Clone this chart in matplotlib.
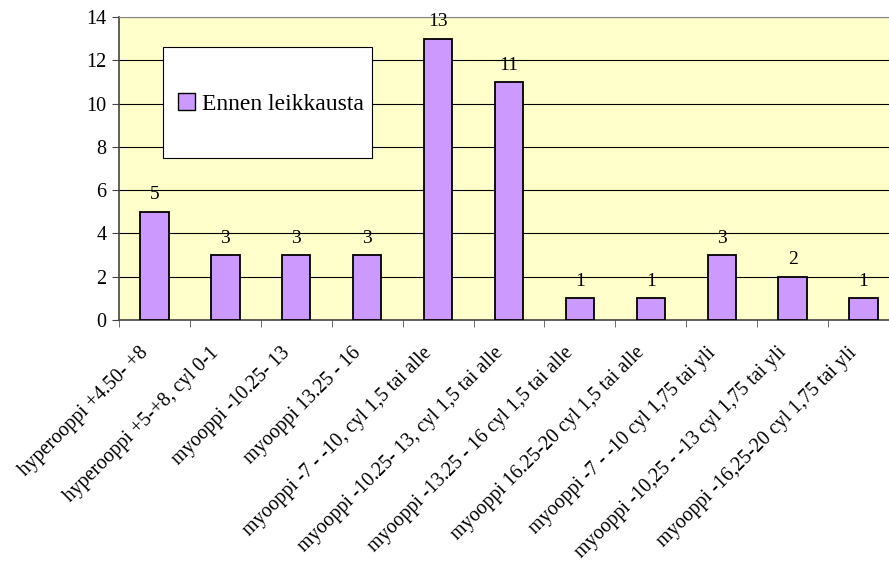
import matplotlib
matplotlib.use("Agg")
import matplotlib.pyplot as plt
from matplotlib.patches import Patch, Rectangle
import matplotlib.transforms as mtransforms
import numpy as np

categories = [
    "hyperooppi +4.50- +8",
    "hyperooppi +5-+8, cyl 0-1",
    "myooppi -10.25- 13",
    "myooppi 13.25 - 16",
    "myooppi -7 - -10, cyl 1,5 tai alle",
    "myooppi -10.25- 13, cyl 1,5 tai alle",
    "myooppi -13.25 - 16 cyl 1,5 tai alle",
    "myooppi 16.25-20 cyl 1,5 tai alle",
    "myooppi -7 - -10 cyl 1,75 tai yli",
    "myooppi -10,25 - -13 cyl 1,75 tai yli",
    "myooppi -16,25-20 cyl 1,75 tai yli",
]
values = [5, 3, 3, 3, 13, 11, 1, 1, 3, 2, 1]
series_name = "Ennen leikkausta"
y_ticks = [0, 2, 4, 6, 8, 10, 12, 14]

plt.rcParams["font.family"] = ["Liberation Serif", "DejaVu Serif"]

W, H = 889, 565
fig = plt.figure(figsize=(W / 100, H / 100), dpi=100)
ax = fig.add_axes([119 / W, 245 / H, 780 / W, 303 / H])
ax.set_facecolor("#FFFFCC")

x = np.arange(len(categories))
ax.bar(x, values, width=0.4, color="#CC99FF", edgecolor="black", linewidth=1.3, zorder=3)

for xi, v in zip(x, values):
    ax.annotate(str(v), (xi, v), xytext=(0, 6), textcoords="offset points",
                ha="center", va="bottom", fontsize=14, zorder=4)

ax.set_xlim(-0.5, len(categories) - 0.5)
ax.set_ylim(0, 14)
ax.set_yticks(y_ticks)
ax.yaxis.grid(True, color="black", linewidth=0.8, zorder=1)
ax.set_axisbelow(True)

ax.set_xticks(x)
ax.set_xticklabels(categories, rotation=45, ha="right", va="center",
                   rotation_mode="anchor", fontsize=14.3)
ax.set_xticks(np.arange(-0.5, len(categories)), minor=True)
ax.tick_params(axis="x", which="major", length=0, pad=0)
ax.tick_params(axis="x", which="minor", length=5, direction="out", color="#555555")
ax.tick_params(axis="y", length=5, direction="out", labelsize=14.5, pad=4, color="#444444")

shift = mtransforms.ScaledTranslation(-9 / 100, -30 / 100, fig.dpi_scale_trans)
for lbl in ax.get_xticklabels():
    lbl.set_transform(lbl.get_transform() + shift)

for name in ["left", "bottom"]:
    ax.spines[name].set_color("#444444")
    ax.spines[name].set_linewidth(1.2)
ax.spines["top"].set_color("#888888")
ax.spines["right"].set_color("#888888")

# legend box
bx0, bx1 = (162.7 - 119) / 780, (372.3 - 119) / 780
by1, by0 = 1 - (46.7 - 17) / 303, 1 - (157.7 - 17) / 303
ax.add_patch(Rectangle((bx0, by0), bx1 - bx0, by1 - by0, transform=ax.transAxes,
                       facecolor="white", edgecolor="black", linewidth=0.8, zorder=5))
leg = ax.legend(handles=[Patch(facecolor="#CC99FF", edgecolor="black", linewidth=1.0,
                               label=series_name)],
                loc="center left", bbox_to_anchor=(bx0 + 0.020, 1 - (104 - 17) / 303),
                borderaxespad=0, borderpad=0, fontsize=17, frameon=False,
                handlelength=0.7, handleheight=0.7, handletextpad=0.3)
leg.set_zorder(6)

fig.savefig("out.png", dpi=100)
